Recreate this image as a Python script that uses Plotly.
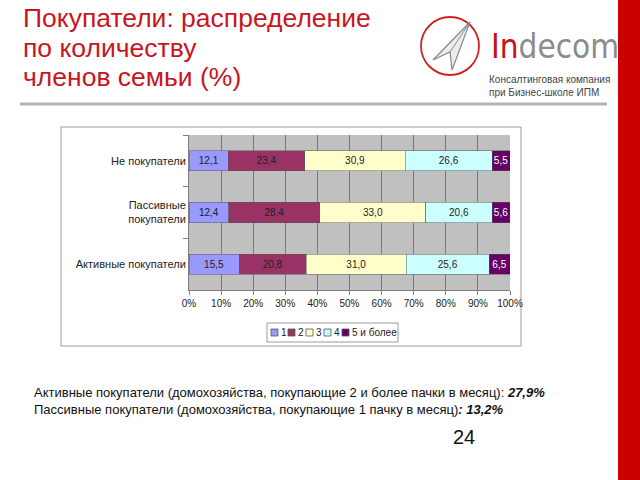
import plotly.graph_objects as go

# ---------------- data ----------------
categories = ["Активные покупатели", "Пассивные<br>покупатели", "Не покупатели"]
series_names = ["1", "2", "3", "4", "5 и более"]
series_colors = ["#9999ff", "#993366", "#ffffcc", "#ccffff", "#660066"]
text_colors = ["#222222", "#222222", "#222222", "#222222", "#ffffff"]
s1 = [15.5, 12.4, 12.1]
s2 = [20.8, 28.4, 23.4]
s3 = [31.0, 33.0, 30.9]
s4 = [25.6, 20.6, 26.6]
s5 = [6.5, 5.6, 5.5]
series_values = [s1, s2, s3, s4, s5]
x_ticks = [0, 10, 20, 30, 40, 50, 60, 70, 80, 90, 100]
title_lines = ["Покупатели: распределение", "по количеству", "членов семьи (%)"]

W, H = 640, 480
def px(x):
    return x / W
def py(y):
    return 1 - y / H

FONT = "Arial, Liberation Sans, sans-serif"

fig = go.Figure()
for name, vals, col, tcol in zip(series_names, series_values, series_colors, text_colors):
    fig.add_trace(go.Bar(
        y=categories, x=vals, name=name, orientation="h",
        marker=dict(color=col, line=dict(color="#555555", width=0.5)),
        text=[f"{v:.1f}".replace(".", ",") for v in vals],
        textposition="inside", insidetextanchor="middle", textangle=0,
        textfont=dict(size=10, color=tcol, family=FONT),
        showlegend=False, hoverinfo="skip",
    ))

shapes = []
annotations = []

# red side bar
shapes.append(dict(type="rect", xref="paper", yref="paper", x0=px(618), x1=1, y0=0, y1=1,
                   fillcolor="#cc0000", line=dict(width=0), layer="above"))
# header separator line
shapes.append(dict(type="line", xref="paper", yref="paper", x0=px(20), x1=px(607), y0=py(104), y1=py(104),
                   line=dict(color="#b4b4b4", width=3)))
# chart frame
shapes.append(dict(type="rect", xref="paper", yref="paper", x0=px(61), x1=px(521), y0=py(346), y1=py(127),
                   line=dict(color="#9a9a9a", width=1), fillcolor="rgba(0,0,0,0)", layer="below"))
# legend box
shapes.append(dict(type="rect", xref="paper", yref="paper", x0=px(267), x1=px(398), y0=py(342), y1=py(323),
                   line=dict(color="#9a9a9a", width=1), fillcolor="white"))
leg_x = [271, 288, 306, 324, 342]
for lx, name, col in zip(leg_x, series_names, series_colors):
    shapes.append(dict(type="rect", xref="paper", yref="paper", x0=px(lx), x1=px(lx + 7),
                       y0=py(336), y1=py(329), fillcolor=col, line=dict(color="#555555", width=0.8)))
    annotations.append(dict(xref="paper", yref="paper", x=px(lx + 8), y=py(332.5), text=name,
                            showarrow=False, xanchor="left", yanchor="middle",
                            font=dict(size=10, color="#222222", family=FONT)))

# logo: circle + paper plane
shapes.append(dict(type="circle", xref="paper", yref="paper", x0=px(421), x1=px(479), y0=py(75), y1=py(17),
                   line=dict(color="#cc2222", width=1.8)))
shapes.append(dict(type="path", xref="paper", yref="paper",
                   path=f"M {px(470)} {py(22)} L {px(433)} {py(60)} L {px(450)} {py(52)} L {px(452)} {py(70)} Z",
                   line=dict(color="#8a8a8a", width=1.2), fillcolor="rgba(200,200,200,0.35)"))
shapes.append(dict(type="line", xref="paper", yref="paper", x0=px(470), y0=py(22), x1=px(450), y1=py(52),
                   line=dict(color="#8a8a8a", width=1)))

# title (one annotation per line to control line spacing)
for i, line in enumerate(title_lines):
    annotations.append(dict(xref="paper", yref="paper", x=px(21), y=py(18 + 29.5 * i),
                            xanchor="left", yanchor="middle", align="left", showarrow=False,
                            text=line, font=dict(size=26.5, color="#c8161e", family=FONT)))
# logo text
annotations.append(dict(xref="paper", yref="paper", x=px(489), y=py(47), xanchor="left", yanchor="middle",
                        showarrow=False,
                        text="<span style='color:#cc1111'>In</span><span style='color:#8c8c8c'>decom</span>",
                        font=dict(size=33, family="Liberation Sans Narrow, DejaVu Sans Condensed, Arial Narrow, Arial, sans-serif")))
annotations.append(dict(xref="paper", yref="paper", x=px(487), y=py(86.5), xanchor="left", yanchor="middle",
                        showarrow=False, align="left",
                        text="Консалтинговая компания<br>при Бизнес-школе ИПМ",
                        font=dict(size=10, color="#444444", family=FONT)))

# bottom notes
annotations.append(dict(xref="paper", yref="paper", x=px(32), y=py(401), xanchor="left", yanchor="middle",
                        showarrow=False, align="left",
                        text="Активные покупатели (домохозяйства, покупающие 2 и более пачки в месяц): <b><i>27,9%</i></b><br>"
                             "Пассивные покупатели (домохозяйства, покупающие 1 пачку в месяц)<b><i>: 13,2%</i></b>",
                        font=dict(size=13, color="#111111", family=FONT)))
annotations.append(dict(xref="paper", yref="paper", x=px(464), y=py(437), xanchor="center", yanchor="middle",
                        showarrow=False, text="24", font=dict(size=20, color="#111111", family=FONT)))

fig.update_layout(
    width=W, height=H, margin=dict(l=0, r=0, t=0, b=0, pad=0, autoexpand=False),
    paper_bgcolor="white", plot_bgcolor="#c0c0c0",
    barmode="stack", barnorm="percent", bargap=0.61,
    uniformtext=dict(minsize=10, mode="show"),
    showlegend=False,
    xaxis=dict(domain=[px(189), px(510)], range=[0, 100], tickvals=x_ticks,
               ticktext=[f"{t}%" for t in x_ticks], automargin=False,
               showgrid=True, gridcolor="#7a7a7a", gridwidth=1, zeroline=False,
               showline=True, linecolor="#808080", ticks="outside", ticklen=4, tickcolor="#808080",
               tickfont=dict(size=10, color="#222222", family=FONT), fixedrange=True),
    yaxis=dict(domain=[py(290), py(135)], type="category", tickson="boundaries", automargin=False,
               ticks="outside", ticklen=5, tickcolor="#808080", showline=True, linecolor="#808080",
               showgrid=False, tickfont=dict(size=11, color="#222222", family=FONT), fixedrange=True),
    shapes=shapes, annotations=annotations,
)

fig.write_html("out.html", post_script="document.documentElement.style.overflow='hidden';document.body.style.overflow='hidden';document.body.style.margin='0';")
